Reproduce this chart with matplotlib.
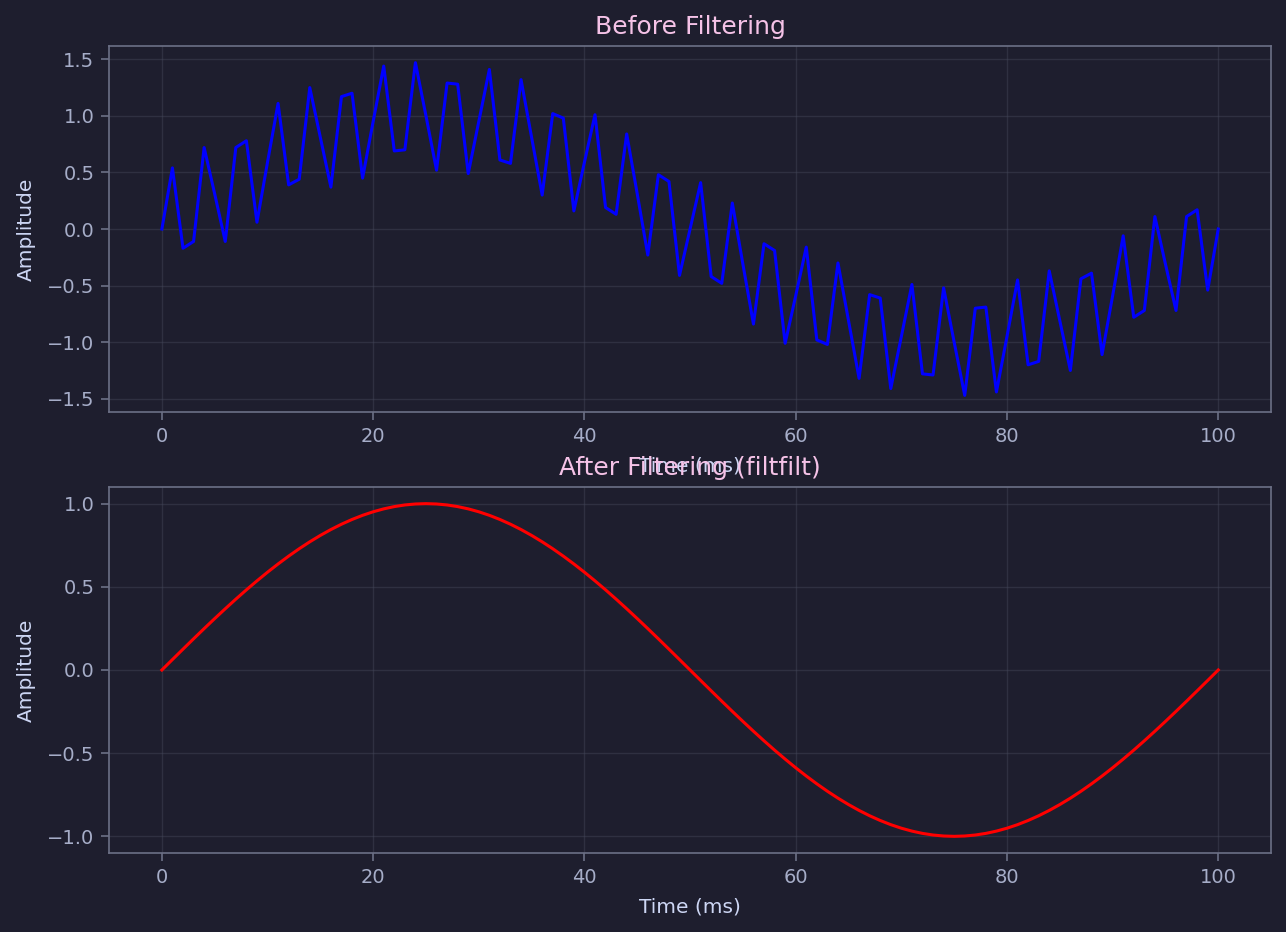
import matplotlib
matplotlib.use("Agg")
import matplotlib.pyplot as plt
from matplotlib.ticker import MultipleLocator

# time axis, ms
time_ms = list(range(0, 101))

# raw signal
raw = [
    0.00, 0.54, -0.17, -0.11, 0.72, 0.31, -0.11, 0.72, 0.78, 0.06,
    0.59, 1.11, 0.39, 0.44, 1.25, 0.81, 0.37, 1.17, 1.20, 0.45,
    0.95, 1.44, 0.69, 0.70, 1.47, 1.00, 0.52, 1.29, 1.28, 0.49,
    0.95, 1.41, 0.61, 0.58, 1.32, 0.81, 0.30, 1.02, 0.98, 0.16,
    0.59, 1.01, 0.19, 0.13, 0.84, 0.31, -0.23, 0.48, 0.42, -0.41,
    0.00, 0.41, -0.42, -0.48, 0.23, -0.31, -0.84, -0.13, -0.19, -1.01,
    -0.59, -0.16, -0.98, -1.02, -0.30, -0.81, -1.32, -0.58, -0.61, -1.41,
    -0.95, -0.49, -1.28, -1.29, -0.52, -1.00, -1.47, -0.70, -0.69, -1.44,
    -0.95, -0.45, -1.20, -1.17, -0.37, -0.81, -1.25, -0.44, -0.39, -1.11,
    -0.59, -0.06, -0.78, -0.72, 0.11, -0.31, -0.72, 0.11, 0.17, -0.54,
    0.00,
]

# filtered signal (bottom panel)
filtered = [
    0.0000, 0.0628, 0.1253, 0.1874, 0.2487, 0.3090, 0.3681, 0.4258, 0.4818, 0.5358,
    0.5878, 0.6374, 0.6845, 0.7290, 0.7705, 0.8090, 0.8443, 0.8763, 0.9048, 0.9298,
    0.9511, 0.9686, 0.9823, 0.9921, 0.9980, 1.0000, 0.9980, 0.9921, 0.9823, 0.9686,
    0.9511, 0.9298, 0.9048, 0.8763, 0.8443, 0.8090, 0.7705, 0.7290, 0.6845, 0.6374,
    0.5878, 0.5358, 0.4818, 0.4258, 0.3681, 0.3090, 0.2487, 0.1874, 0.1253, 0.0628,
    0.0000, -0.0628, -0.1253, -0.1874, -0.2487, -0.3090, -0.3681, -0.4258, -0.4818, -0.5358,
    -0.5878, -0.6374, -0.6845, -0.7290, -0.7705, -0.8090, -0.8443, -0.8763, -0.9048, -0.9298,
    -0.9511, -0.9686, -0.9823, -0.9921, -0.9980, -1.0000, -0.9980, -0.9921, -0.9823, -0.9686,
    -0.9511, -0.9298, -0.9048, -0.8763, -0.8443, -0.8090, -0.7705, -0.7290, -0.6845, -0.6374,
    -0.5878, -0.5358, -0.4818, -0.4258, -0.3681, -0.3090, -0.2487, -0.1874, -0.1253, -0.0628,
    0.0000,
]

BG = "#1e1e2e"
SPINE = "#6c7086"
TICK = "#a6adc8"
LABEL = "#cdd6f4"
TITLE = "#f5c2e7"
GRID = "#45475a"

fig, (ax1, ax2) = plt.subplots(2, 1, figsize=(12.86, 9.32), dpi=100)
fig.patch.set_facecolor(BG)
fig.subplots_adjust(left=0.0848, right=0.9884, top=0.9506, bottom=0.0848, hspace=0.205)

ax1.plot(time_ms, raw, color="blue", linewidth=2.2)
ax1.set_title("Before Filtering", color=TITLE, fontsize=18, pad=9)

ax2.plot(time_ms, filtered, color="red", linewidth=2.2)
ax2.set_title("After Filtering (filtfilt)", color=TITLE, fontsize=18, pad=9)
ax2.yaxis.set_major_locator(MultipleLocator(0.5))

for ax in (ax1, ax2):
    ax.set_facecolor(BG)
    ax.set_xlabel("Time (ms)", color=LABEL, fontsize=14.5, labelpad=8)
    ax.set_ylabel("Amplitude", color=LABEL, fontsize=14.5, labelpad=8)
    ax.grid(True, color=GRID, alpha=0.45, linewidth=1.0)
    ax.tick_params(colors=SPINE, labelcolor=TICK, labelsize=14, length=6, width=1.2, pad=4.5)
    for s in ax.spines.values():
        s.set_color(SPINE)
        s.set_linewidth(1.2)

fig.savefig("out.png", dpi=100, facecolor=BG)
